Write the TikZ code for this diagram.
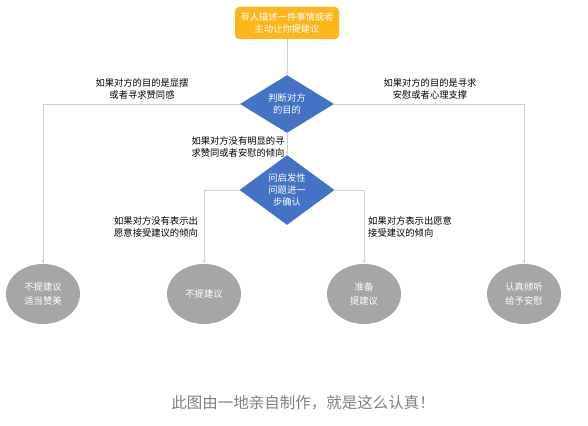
\documentclass[tikz,border=0pt]{standalone}
\usepackage{fontspec}
\setmainfont{Noto Sans CJK SC}
\usetikzlibrary{shapes.geometric, arrows.meta, positioning}
\definecolor{startbg}{HTML}{FFB61A}
\definecolor{decide}{HTML}{4472C4}
\definecolor{endbg}{HTML}{A6A6A6}
\definecolor{wire}{HTML}{D0D0D0}
\definecolor{note}{HTML}{808080}

\begin{document}
\begin{tikzpicture}[
  x=1pt, y=-1pt,
  font=\fontsize{9.3}{11.5}\selectfont,
  startbox/.style={rectangle, fill=startbg, rounded corners=4pt, text=white,
                   minimum width=104pt, minimum height=32pt, inner sep=0pt, align=center},
  choice/.style={diamond, fill=decide, text=white, inner sep=0pt, align=center,
                 font=\fontsize{9.3}{12}\selectfont},
  outcome/.style={ellipse, fill=endbg, text=white, inner sep=0pt, align=center,
                  minimum width=74pt, minimum height=60pt,
                  font=\fontsize{9.3}{14}\selectfont},
  cond/.style={align=center, inner sep=0pt},
  arr/.style={-{Stealth[length=4pt, width=3pt]}, wire, line width=0.8pt}
]
  \useasboundingbox (0,0) rectangle (588,425);

  % ── Start and decisions ─────────────────────────────────────────────────────
  \node[startbox] (ask) at (287,23) {有人描述一件事情或者\\主动让你提建议};
  \node[choice, minimum width=94pt, minimum height=44pt] (goal) at (287,104) {判断对方\\的目的};
  \node[choice, minimum width=95pt, minimum height=52pt] (probe) at (287,190) {问启发性\\问题进一\\步确认};

  % ── Outcomes ────────────────────────────────────────────────────────────────
  \node[outcome] (praise) at (43,294)  {不提建议\\适当赞美};
  \node[outcome] (nosug)  at (204,294) {不提建议};
  \node[outcome] (sug)    at (364,294) {准备\\提建议};
  \node[outcome] (listen) at (524,294) {认真倾听\\给予安慰};

  % ── Conditions ──────────────────────────────────────────────────────────────
  \node[cond] (showoff) at (142,89) {如果对方的目的是显摆\\或者寻求赞同感};
  \node[cond] (comfort) at (430,89) {如果对方的目的是寻求\\安慰或者心理支撑};
  \node[cond] (unclear) at (238,147) {如果对方没有明显的寻\\求赞同或者安慰的倾向};
  \node[cond] (refuse)  at (156,227) {如果对方没有表示出\\愿意接受建议的倾向};
  \node[cond, align=left, anchor=west] (accept) at (368,227) {如果对方表示出愿意\\接受建议的倾向};

  % ── Arrows ──────────────────────────────────────────────────────────────────
  \draw[arr] (ask) -- (goal);
  \draw[arr] (goal.west) -| (praise);
  \draw[arr] (goal.east) -| (listen);
  \draw[arr] (goal) -- (probe);
  \draw[arr] (probe.west) -| (nosug);
  \draw[arr] (probe.east) -| (sug);

  \node[text=note, font=\fontsize{15.5}{18}\selectfont] (credit) at (303,403) {此图由一地亲自制作，就是这么认真！};
\end{tikzpicture}
\end{document}
